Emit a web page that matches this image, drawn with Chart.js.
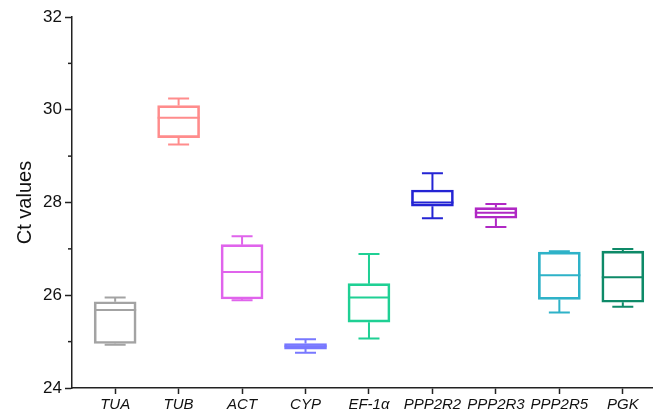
<!DOCTYPE html>
<html><head><meta charset="utf-8">
<script src="https://cdn.jsdelivr.net/npm/chart.js@4/dist/chart.umd.min.js"></script>
<style>html,body{margin:0;padding:0;background:#fff}#wrap{width:657px;height:414px}</style>
</head><body><div id="wrap"><canvas id="c"></canvas></div>
<script>
'use strict';
// box plot of Ct values per reference gene
var GENES  =['TUA','TUB','ACT','CYP','EF-1α','PPP2R2','PPP2R3','PPP2R5','PGK'];
var MINS   =[24.93,29.25,25.89,24.76,25.07,27.66,27.47,25.63,25.75];
var Q1     =[24.96,29.40,25.92,24.84,25.42,27.92,27.66,25.91,25.85];
var MEDIANS=[25.68,29.83,26.50,24.90,25.95,28.00,27.78,26.43,26.39];
var Q3     =[25.86,30.09,27.09,24.96,26.25,28.27,27.89,26.93,26.95];
var MAXS   =[25.95,30.24,27.27,25.05,26.89,28.63,27.97,26.95,27.00];
var COLORS =['#a3a3a3','#ff8c8c','#e064ec','#7878ff','#1fd094','#2424d4','#b028c4','#2eb2c8','#0e8a68'];
var Y_MIN=24,Y_MAX=32,Y_STEP=2;

var boxExtras={id:'boxExtras',
  afterDatasetsDraw:function(chart){
    var x=chart.scales.x,y=chart.scales.y,ctx=chart.ctx;
    ctx.save();ctx.lineWidth=2;
    for(var i=0;i<GENES.length;i++){
      var cx=x.getPixelForValue(i),hw=21,cw=10.5;
      ctx.strokeStyle=COLORS[i];
      var yq1=y.getPixelForValue(Q1[i]),yq3=y.getPixelForValue(Q3[i]);
      var ymn=y.getPixelForValue(MINS[i]),ymx=y.getPixelForValue(MAXS[i]);
      var ymd=y.getPixelForValue(MEDIANS[i]);
      ctx.beginPath();
      ctx.moveTo(cx-hw,ymd);ctx.lineTo(cx+hw,ymd);
      ctx.moveTo(cx,yq3);ctx.lineTo(cx,ymx);
      ctx.moveTo(cx-cw,ymx);ctx.lineTo(cx+cw,ymx);
      ctx.moveTo(cx,yq1);ctx.lineTo(cx,ymn);
      ctx.moveTo(cx-cw,ymn);ctx.lineTo(cx+cw,ymn);
      ctx.stroke();
    }
    // minor ticks on y axis
    ctx.strokeStyle='#222';ctx.lineWidth=1.5;
    var left=chart.chartArea.left;
    for(var v=Y_MIN+1;v<Y_MAX;v+=Y_STEP){
      var py=y.getPixelForValue(v);
      ctx.beginPath();ctx.moveTo(left-4,py);ctx.lineTo(left,py);ctx.stroke();
    }
    ctx.restore();
  }
};

new Chart(document.getElementById('c'),{
  type:'bar',
  data:{datasets:[{
    data:GENES.map(function(g,i){return{x:i,y:[Q1[i],Q3[i]]};}),
    backgroundColor:'rgba(0,0,0,0)',borderColor:COLORS,borderWidth:2,borderSkipped:false,barThickness:42
  }]},
  options:{responsive:true,maintainAspectRatio:false,animation:false,
    layout:{padding:{top:17,right:5,left:0,bottom:0}},
    plugins:{legend:{display:false},tooltip:{enabled:false}},
    scales:{
      x:{type:'linear',min:-0.68,max:8.46,offset:false,
        afterBuildTicks:function(s){s.ticks=GENES.map(function(g,i){return{value:i};});},
        afterFit:function(s){s.height=26;},
        grid:{offset:false,drawOnChartArea:false,tickLength:6,tickColor:'#222',tickWidth:1.5},
        border:{color:'#222',width:1.5},
        ticks:{autoSkip:false,maxRotation:0,padding:2,color:'#111',font:{family:'Liberation Sans',size:15,style:'italic'},
          callback:function(v){return GENES[v];}}},
      y:{min:Y_MIN,max:Y_MAX,
        afterFit:function(s){s.width=72;},
        grid:{drawOnChartArea:false,tickLength:7,tickColor:'#222',tickWidth:1.5},
        border:{color:'#222',width:1.5},
        ticks:{stepSize:Y_STEP,padding:3,color:'#111',font:{family:'Liberation Sans',size:17}},
        title:{display:true,text:'Ct values',color:'#111',padding:{top:13,bottom:0},font:{family:'Liberation Sans',size:20}}}
    }
  },
  plugins:[boxExtras]
});
</script></body></html>
